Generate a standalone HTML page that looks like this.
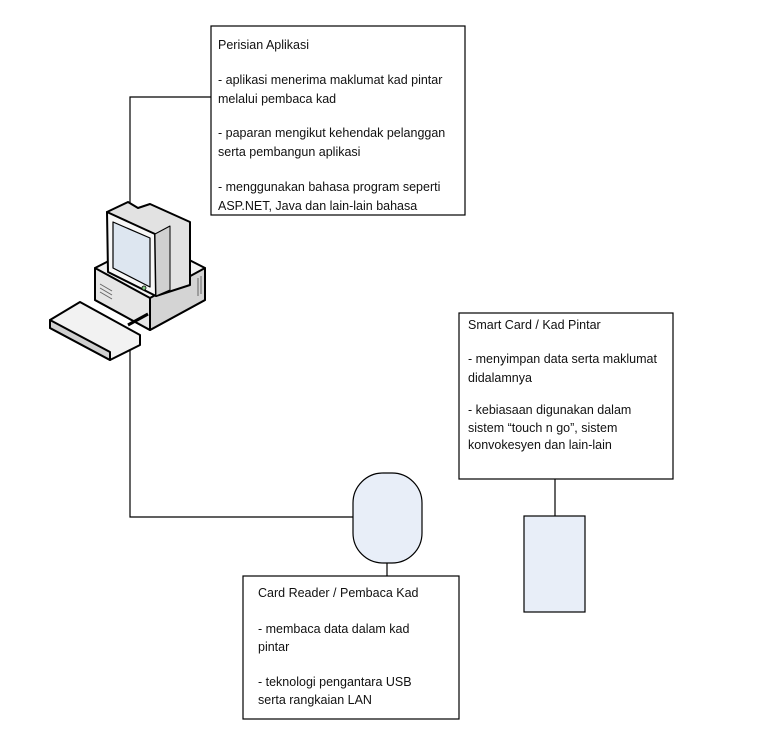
<!DOCTYPE html>
<html><head><style>
html,body{margin:0;padding:0;background:#fff;}
svg{display:block;}
text{font-family:"Liberation Sans",sans-serif;font-size:12.5px;fill:#111;}
</style></head><body>
<svg width="768" height="739" viewBox="0 0 768 739" xmlns="http://www.w3.org/2000/svg">
<g stroke="#000" stroke-width="1.2" fill="none">
<polyline points="211,97 130,97 130,207"/>
<polyline points="130,350 130,517 353,517"/>
<line x1="387" y1="563" x2="387" y2="576"/>
<line x1="555" y1="479" x2="555" y2="516"/>
<rect x="211" y="26" width="254" height="189" fill="#fff"/>
<rect x="459" y="313" width="214" height="166" fill="#fff"/>
<rect x="243" y="576" width="216" height="143" fill="#fff"/>
<rect x="353" y="473" width="69" height="90" rx="30" ry="30" fill="#e8eef8"/>
<rect x="524" y="516" width="61" height="96" fill="#e8eef8"/>
</g>
<!-- computer -->
<g stroke="#000" stroke-width="2" stroke-linejoin="round">
<polygon points="95,268 150,240 205,268 205,300 150,330 95,300" fill="#f2f2f2"/>
<polygon points="95,268 150,298 150,330 95,300" fill="#e6e6e6"/>
<polygon points="150,298 205,268 205,300 150,330" fill="#d4d4d4"/>
<polygon points="107,212 128,202 138,208 150,204 190,222 190,285 156,296" fill="#e2e2e2"/>
<polygon points="107,212 155,234 156,296 108,272" fill="#f7f7f7"/>
<polygon points="113,222 150,238 150,287 113,268" fill="#dde6f0" stroke-width="1.2"/>
<polygon points="155,234 170,226 170,290 156,296" fill="#d0d0d0" stroke-width="1"/>
<circle cx="144" cy="288" r="2" fill="#8c8" stroke-width="0.8"/>
<line x1="128" y1="325" x2="148" y2="314" stroke-width="3"/>
<polygon points="50,320 80,302 140,335 140,345 110,360 50,328" fill="#f2f2f2"/>
<polygon points="50,320 110,352 110,360 50,328" fill="#d0d0d0"/>
</g>
<g stroke="#666" stroke-width="1">
<line x1="198" y1="278" x2="198" y2="296"/><line x1="201" y1="276" x2="201" y2="294"/>
<line x1="100" y1="284" x2="112" y2="291"/><line x1="100" y1="288" x2="112" y2="295"/><line x1="100" y1="292" x2="112" y2="299"/>
</g>
<g>
<text x="218" y="49">Perisian Aplikasi</text>
<text x="218" y="84">- aplikasi menerima maklumat kad pintar</text>
<text x="218" y="103">melalui pembaca kad</text>
<text x="218" y="137">- paparan mengikut kehendak pelanggan</text>
<text x="218" y="156">serta pembangun aplikasi</text>
<text x="218" y="191">- menggunakan bahasa program seperti</text>
<text x="218" y="210">ASP.NET, Java dan lain-lain bahasa</text>

<text x="468" y="329">Smart Card / Kad Pintar</text>
<text x="468" y="363">- menyimpan data serta maklumat</text>
<text x="468" y="382">didalamnya</text>
<text x="468" y="414">- kebiasaan digunakan dalam</text>
<text x="468" y="432">sistem “touch n go”, sistem</text>
<text x="468" y="449">konvokesyen dan lain-lain</text>

<text x="258" y="597">Card Reader / Pembaca Kad</text>
<text x="258" y="633">- membaca data dalam kad</text>
<text x="258" y="651">pintar</text>
<text x="258" y="686">- teknologi pengantara USB</text>
<text x="258" y="704">serta rangkaian LAN</text>
</g>
</svg>
</body></html>
